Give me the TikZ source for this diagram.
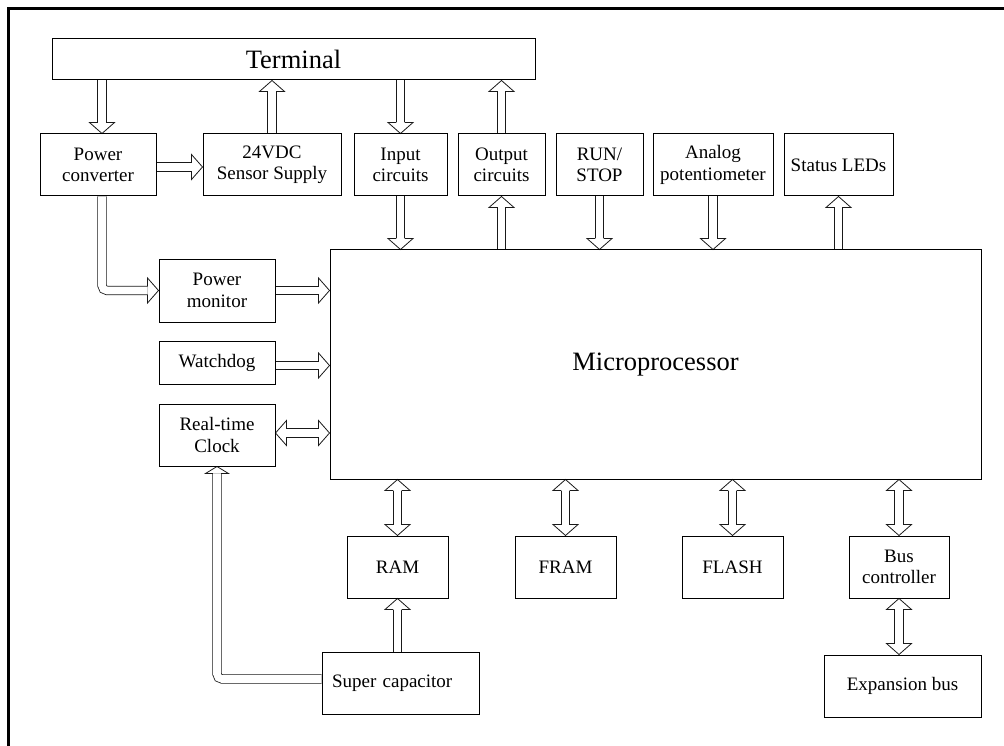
\documentclass[tikz,border=0pt]{standalone}
\usepackage{fontspec}
\setmainfont{Liberation Serif}
\usetikzlibrary{arrows.meta,backgrounds}

% hollow head for the wide (double) bus lines
\newcommand{\busgap}{4.2pt}
\pgfdeclarearrow{
  name = Hollow,
  parameters = {\the\pgfarrowlength,\the\pgfarrowwidth},
  setup code = {
    \pgfarrowssettipend{0pt}
    \pgfarrowssetlineend{-\pgfarrowlength}
    \pgfarrowsupperhullpoint{-\pgfarrowlength}{.5\pgfarrowwidth}
    \pgfarrowsupperhullpoint{0pt}{0pt}
    \pgfarrowssavethe\pgfarrowlength
    \pgfarrowssavethe\pgfarrowwidth
  },
  drawing code = {
    \pgfsetdash{}{0pt}
    \pgfsetlinewidth{0.8pt}
    \pgfsetmiterjoin
    \pgfpathmoveto{\pgfqpoint{-\pgfarrowlength}{\busgap}}
    \pgfpathlineto{\pgfqpoint{-\pgfarrowlength}{.5\pgfarrowwidth}}
    \pgfpathlineto{\pgfqpoint{0pt}{0pt}}
    \pgfpathlineto{\pgfqpoint{-\pgfarrowlength}{-.5\pgfarrowwidth}}
    \pgfpathlineto{\pgfqpoint{-\pgfarrowlength}{-\busgap}}
    \pgfusepathqstroke
  },
  defaults = {length=11pt, width=25pt}
}

\tikzset{
  blk/.style={draw, line width=1pt, inner sep=0pt, align=center,
    font=\fontsize{19}{21.5}\selectfont},
  big/.style={font=\fontsize{26.5}{30}\selectfont},
  bus/.style={draw=black!90, line width=0.8pt, double=white,
    double distance=7.6pt, -{Hollow}},
  bibus/.style={bus, {Hollow}-{Hollow}},
}

\begin{document}
\begin{tikzpicture}[x=1pt, y=-1pt]
    \useasboundingbox (0,0) rectangle (1004,746);
    \draw[line width=2.5pt] (8.5,780) |- (1040,8.5);

    % top row
    \node[blk, big, minimum width=483, minimum height=41] (term) at (293.5,59.5) {Terminal};
    \node[blk, minimum width=116, minimum height=62] (pconv) at (98,165) {Power\\converter};
    \node[blk, minimum width=138, minimum height=62] (sens) at (272,165) {24VDC\\Sensor Supply};
    \node[blk, minimum width=93, minimum height=62] (inp) at (400.5,165) {Input\\circuits};
    \node[blk, minimum width=87, minimum height=62] (outp) at (501.5,165) {Output\\circuits};
    \node[blk, minimum width=87, minimum height=62] (runstop) at (599.5,165) {RUN/\\STOP};
    \node[blk, minimum width=120, minimum height=62] (analog) at (713,165) {Analog\\potentiometer};
    \node[blk, minimum width=109, minimum height=62] (leds) at (838.5,165) {Status LEDs};

    % core
    \node[blk, big, minimum width=651, minimum height=229] (micro) at (655.5,364.5) {Microprocessor};
    \node[blk, minimum width=116, minimum height=63] (pmon) at (217,290.5) {Power\\monitor};
    \node[blk, minimum width=116, minimum height=43] (wdog) at (217,362.5) {Watchdog};
    \node[blk, minimum width=116, minimum height=62] (rtc) at (217,435) {Real-time\\Clock};

    % memories and bus
    \node[blk, minimum width=101, minimum height=62] (ram) at (397.5,567) {RAM};
    \node[blk, minimum width=101, minimum height=62] (fram) at (565.5,567) {FRAM};
    \node[blk, minimum width=101, minimum height=62] (flash) at (732.5,567) {FLASH};
    \node[blk, minimum width=100, minimum height=62] (busc) at (899,567) {Bus\\controller};
    \node[blk, minimum width=157, minimum height=62] (expb) at (902.5,686) {Expansion bus};
    \node[blk, minimum width=157, minimum height=62, align=left, text width=137] (scap) at (400.5,683) {Super capacitor};

    \begin{scope}[on background layer]
        \draw[bus] ([xshift=4]pconv.north |- term.south) -- ([xshift=4]pconv.north);
        \draw[bus] (sens.north) -- (sens.north |- term.south);
        \draw[bus] (inp.north |- term.south) -- (inp.north);
        \draw[bus] (outp.north) -- (outp.north |- term.south);
        \draw[bus] ([yshift=-2]pconv.east) -- ([yshift=-2]sens.west);

        \draw[bus] (inp.south) -- (inp.south |- micro.north);
        \draw[bus] (outp.south |- micro.north) -- (outp.south);
        \draw[bus] (runstop.south) -- (runstop.south |- micro.north);
        \draw[bus] (analog.south) -- (analog.south |- micro.north);
        \draw[bus] (leds.south |- micro.north) -- (leds.south);

        \draw[bus, rounded corners=5pt] ([xshift=4]pconv.south) |- (pmon.west);
        \draw[bus] (pmon.east) -- (pmon.east -| micro.west);
        \draw[bus] ([yshift=-3]wdog.east) -- ([yshift=-3]wdog.east -| micro.west);
        \draw[bibus] ([yshift=2]rtc.east) -- ([yshift=2]rtc.east -| micro.west);

        \foreach \m in {ram,fram,flash,busc}
            \draw[bibus] (\m.north |- micro.south) -- (\m.north);
        \draw[bibus] (busc.south) -- (busc.south |- expb.north);
        \draw[bus] (ram.south |- scap.north) -- (ram.south);
        \draw[bus, rounded corners=5pt, -{Hollow[length=7pt,width=23pt]}]
            ([yshift=4]scap.west) -| (rtc.south);
    \end{scope}
\end{tikzpicture}
\end{document}
